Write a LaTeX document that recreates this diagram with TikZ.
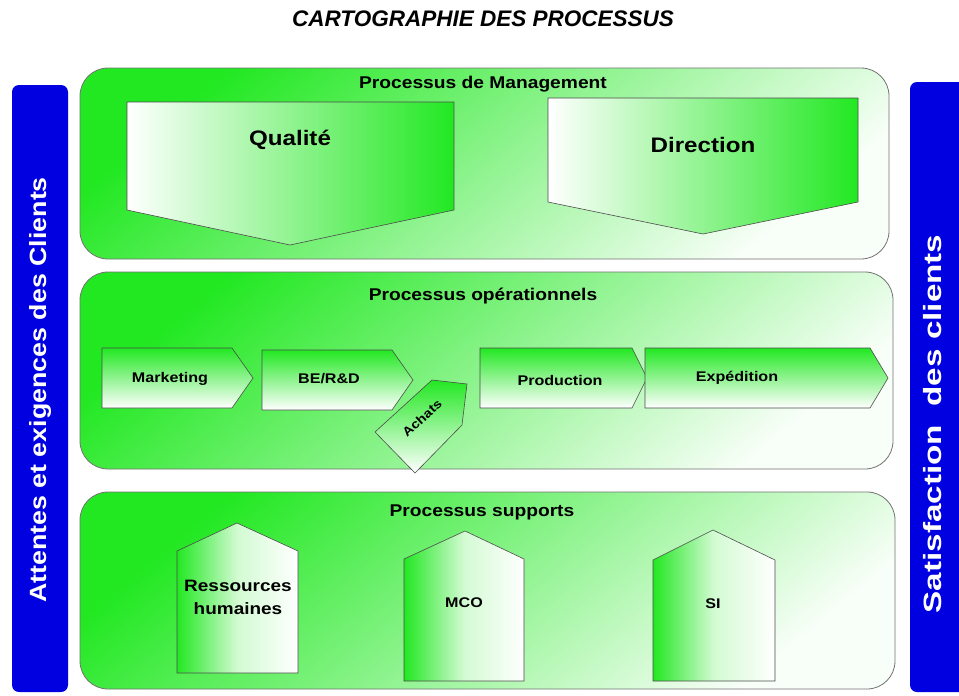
\documentclass[tikz,border=0pt]{standalone}
\usepackage{fontspec}
\setmainfont{Liberation Sans}
\definecolor{pgreen}{RGB}{34,232,34}
\definecolor{pblue}{RGB}{0,0,225}
\newcommand\stretchtxt[2][1.15]{\scalebox{#1}[1]{#2}}
\begin{document}
\begin{tikzpicture}[x=1pt,y=-1pt,
  group/.style={draw=black!55, line width=0.8pt, rounded corners=28pt, top color=pgreen, bottom color=pgreen!3, shading angle=40},
  bar/.style={fill=pblue, rounded corners=7pt},
  bartext/.style={text=white, rotate=90, inner sep=0pt},
  gtitle/.style={font=\bfseries\fontsize{17}{20}\selectfont, inner sep=0pt},
  mgmt/.style={draw=black!70, line width=0.6pt, left color=white, right color=pgreen},
  flow/.style={draw=black!70, line width=0.6pt, top color=pgreen, bottom color=white},
  house/.style={draw=black!70, line width=0.6pt, left color=pgreen, right color=white, middle color=pgreen!20!white},
  big/.style={font=\bfseries\fontsize{21}{24}\selectfont, inner sep=0pt},
  small/.style={font=\bfseries\fontsize{14}{16}\selectfont, inner sep=0pt},
  mid/.style={font=\bfseries\fontsize{16.5}{23}\selectfont, inner sep=0pt}]
\useasboundingbox (0,0) rectangle (959,696);
\clip (0,0) rectangle (959,696);
\fill[white] (0,0) rectangle (959,696);

% title
\node[font=\bfseries\itshape\fontsize{22.5}{26}\selectfont, inner sep=0pt] (title) at (483,19) {CARTOGRAPHIE DES PROCESSUS};

% side bars
\fill[bar] (12,85) rectangle (68,692);
\node[bartext, font=\bfseries\fontsize{23.5}{26}\selectfont] (left) at (40,390) {\stretchtxt[1.14]{Attentes et exigences des Clients}};
\fill[bar] (910,82) rectangle (975,692);
\node[bartext, font=\bfseries\fontsize{25}{28}\selectfont] (right) at (933,424) {\stretchtxt[1.33]{Satisfaction\ \ des clients}};

% group boxes
\path[group] (80,68) rectangle (889,259);
\node[gtitle] (tman) at (483,84) {\stretchtxt[1.13]{Processus de Management}};
\path[group] (80,272) rectangle (893,469);
\node[gtitle] (top) at (483,296) {\stretchtxt[1.13]{Processus opérationnels}};
\path[group] (80,492) rectangle (895,689);
\node[gtitle] (tsup) at (482,512) {\stretchtxt[1.13]{Processus supports}};

% management
\draw[mgmt] (127,102) -- (454,102) -- (454,210) -- (290,245) -- (127,210) -- cycle;
\node[big] (qual) at (290,140) {\stretchtxt{Qualité}};
\draw[mgmt] (548,98) -- (858,98) -- (858,202) -- (703,234) -- (548,202) -- cycle;
\node[big] (dir) at (703,145) {\stretchtxt{Direction}};

% operational
\draw[flow] (102,348) -- (232,348) -- (253,378) -- (232,408) -- (102,408) -- cycle;
\node[small] (mkt) at (170,379) {\stretchtxt{Marketing}};
\draw[flow] (262,350) -- (392,350) -- (413,380) -- (392,410) -- (262,410) -- cycle;
\node[small] (be) at (329,379) {\stretchtxt{BE/R\&D}};
\draw[flow] (480,348) -- (632,348) -- (647,378) -- (632,408) -- (480,408) -- cycle;
\node[small] (prod) at (560,380) {\stretchtxt{Production}};
\draw[flow] (645,348) -- (870,348) -- (888,378) -- (870,408) -- (645,408) -- cycle;
\node[small] (exp) at (737,378) {\stretchtxt{Expédition}};
\draw[flow] (432,380) -- (467,384) -- (462,425) -- (415,473) -- (375,432) -- cycle;
\node[small, font=\bfseries\fontsize{12.5}{14}\selectfont, rotate=42] (ach) at (422,418) {\stretchtxt{Achats}};

% supports
\draw[house] (177,673) -- (177,551) -- (237,523) -- (298,551) -- (298,673) -- cycle;
\node[mid] (rh) at (238,598) {\stretchtxt{\begin{tabular}{@{}c@{}}Ressources\\humaines\end{tabular}}};
\draw[house] (404,681) -- (404,559) -- (465,531) -- (524,559) -- (524,681) -- cycle;
\node[small] (mco) at (464,603) {\stretchtxt{MCO}};
\draw[house] (653,681) -- (653,560) -- (713,530) -- (775,560) -- (775,681) -- cycle;
\node[small] (si) at (713,604) {\stretchtxt{SI}};
\end{tikzpicture}
\end{document}
